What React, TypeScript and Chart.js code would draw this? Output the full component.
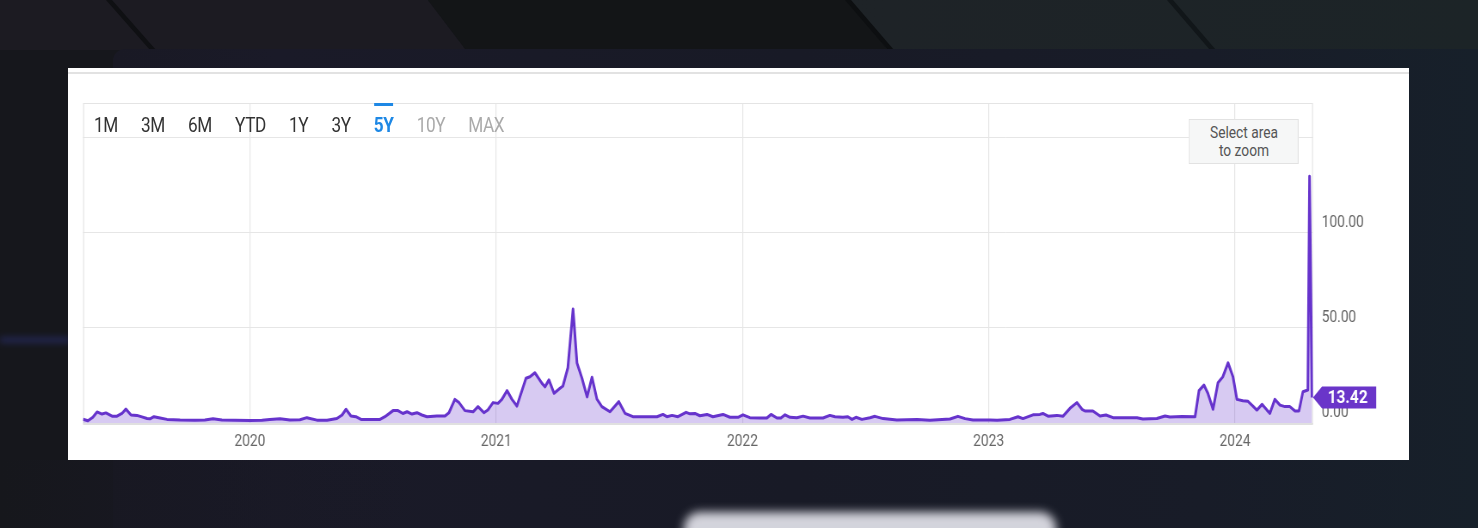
import React, { useEffect, useRef } from 'react';
import { Chart, registerables } from 'chart.js';

Chart.register(...registerables);

// ---- data (x = decimal year, y = price) ----
const xYears = [
  2019.322, 2019.342, 2019.362, 2019.379, 2019.399, 2019.415, 2019.44, 2019.46, 2019.48, 2019.496,
  2019.517, 2019.541, 2019.561, 2019.582, 2019.594, 2019.61, 2019.635, 2019.663, 2019.716, 2019.777,
  2019.817, 2019.85, 2019.886, 2019.939, 2020.0, 2020.049, 2020.081, 2020.122, 2020.162, 2020.203,
  2020.231, 2020.272, 2020.313,
  2020.353, 2020.374, 2020.39, 2020.41, 2020.43, 2020.451, 2020.487, 2020.528, 2020.548, 2020.581,
  2020.601, 2020.621, 2020.638, 2020.658, 2020.678, 2020.698, 2020.719, 2020.759, 2020.792, 2020.808,
  2020.832, 2020.849, 2020.873, 2020.906, 2020.926, 2020.95, 2020.966, 2020.987, 2021.007, 2021.023,
  2021.044, 2021.064, 2021.084, 2021.121, 2021.137, 2021.157, 2021.186, 2021.198, 2021.214, 2021.235,
  2021.259, 2021.271, 2021.291, 2021.312, 2021.328, 2021.348, 2021.369, 2021.389, 2021.409, 2021.429,
  2021.462, 2021.498, 2021.523, 2021.555,
  2021.604, 2021.653, 2021.677, 2021.693, 2021.714, 2021.738, 2021.771, 2021.787, 2021.807, 2021.827,
  2021.856, 2021.88, 2021.921, 2021.949, 2021.982, 2022.002, 2022.03, 2022.071, 2022.099, 2022.116,
  2022.14, 2022.156, 2022.173, 2022.193, 2022.221, 2022.246, 2022.274, 2022.327, 2022.355,
  2022.376, 2022.408, 2022.428, 2022.445, 2022.461, 2022.485, 2022.518, 2022.538, 2022.571, 2022.627,
  2022.709, 2022.761, 2022.843, 2022.875, 2022.904, 2022.936, 2023.005, 2023.034, 2023.086, 2023.119,
  2023.139, 2023.18, 2023.208, 2023.22, 2023.241, 2023.277, 2023.302, 2023.33, 2023.358, 2023.379,
  2023.391, 2023.423, 2023.452, 2023.476, 2023.505, 2023.553, 2023.602, 2023.626, 2023.683, 2023.716,
  2023.736, 2023.785, 2023.838,
  2023.854, 2023.874, 2023.89, 2023.911, 2023.931, 2023.951, 2023.972, 2023.992, 2024.008, 2024.032,
  2024.053, 2024.073, 2024.089, 2024.11, 2024.13, 2024.142, 2024.162, 2024.183, 2024.203, 2024.223,
  2024.244, 2024.26, 2024.276, 2024.296, 2024.303, 2024.313,
];

const prices = [
  2.0, 1.2, 3.0, 5.8, 4.7, 5.3, 3.6, 3.6, 5.0, 7.3,
  4.2, 4.0, 3.2, 2.4, 2.2, 3.3, 2.6, 1.9, 1.6, 1.5,
  1.6, 2.2, 1.6, 1.4, 1.3, 1.4, 1.8, 2.2, 1.6, 1.7,
  2.8, 1.5, 1.5,
  2.4, 4.2, 7.2, 3.7, 3.3, 1.9, 1.8, 1.9, 3.3, 6.5,
  6.5, 5.0, 5.9, 4.7, 5.4, 4.2, 3.3, 3.7, 3.7, 5.4,
  12.4, 10.7, 6.5, 5.9, 8.6, 5.4, 6.8, 10.7, 10.3, 12.4,
  17.0, 12.4, 8.9, 23.5, 24.3, 26.4, 20.8, 19.0, 22.6, 15.6,
  18.2, 19.4, 29.0, 59.8, 31.5, 23.6, 13.7, 24.0, 12.5, 8.6,
  5.9, 11.2, 5.1, 3.3,
  3.3, 3.3, 4.5, 3.3, 4.0, 3.3, 5.6, 4.8, 5.0, 3.8,
  4.5, 3.3, 4.5, 3.0, 3.0, 4.3, 2.8, 2.6, 2.6, 4.5,
  2.6, 2.6, 4.3, 3.0, 2.8, 3.6, 2.6, 2.6, 4.0,
  3.3, 3.0, 3.3, 1.9, 3.0, 1.9, 2.8, 3.5, 2.3, 1.6,
  1.9, 1.4, 2.1, 3.5, 2.3, 1.6, 1.6, 1.4, 1.9, 3.3,
  2.3, 4.3, 4.5, 5.0, 3.6, 4.0, 3.6, 7.7, 10.7, 7.2,
  6.3, 6.3, 3.7, 4.2, 2.8, 2.8, 2.8, 2.1, 2.4, 3.7,
  3.2, 3.4, 3.3,
  17.0, 19.9, 15.6, 7.2, 21.1, 24.3, 31.6, 24.3, 12.4, 11.7,
  11.4, 8.9, 6.8, 9.8, 6.8, 5.1, 12.4, 9.4, 8.6, 8.6,
  6.3, 6.3, 16.4, 17.3, 129.6, 13.42,
];

const yearTicks = [2020, 2021, 2022, 2023, 2024];
const valueTicks = [0, 50, 100, 150];
const rangeButtons = ['1M', '3M', '6M', 'YTD', '1Y', '3Y', '5Y', '10Y', 'MAX'];
const activeRange = '5Y';
const disabledRanges = ['10Y', 'MAX'];

// ---- layout constants ----
const S = 0.86; // horizontal condense of the whole card
const CARD_W = 1341;
const CARD_H = 392;
const LOCAL_W = Math.round(CARD_W / S);
const PLOT_LEFT = (83 - 68) / S;
const PLOT_RIGHT = (1313 - 68) / S;
const Y_AXIS_W = 100;

const LINE = '#6633cc';
const FILL = 'rgba(102, 51, 204, 0.26)';
const LABEL_BG = '#6a35c9';

const framePlugin = {
  id: 'frame',
  beforeDatasetsDraw(chart: any) {
    const { ctx, chartArea: a } = chart;
    ctx.save();
    ctx.strokeStyle = '#e4e4e4';
    ctx.lineWidth = 1.2;
    ctx.beginPath();
    ctx.moveTo(a.left + 0.6, a.bottom);
    ctx.lineTo(a.left + 0.6, a.top + 0.5);
    ctx.lineTo(a.right - 0.6, a.top + 0.5);
    ctx.lineTo(a.right - 0.6, a.bottom);
    ctx.stroke();
    ctx.strokeStyle = '#e0e0e0';
    ctx.lineWidth = 2;
    ctx.beginPath();
    ctx.moveTo(a.left, a.bottom + 1);
    ctx.lineTo(a.right, a.bottom + 1);
    ctx.stroke();
    ctx.restore();
  },
};

const lastLabelPlugin = {
  id: 'lastLabel',
  afterDatasetsDraw(chart: any) {
    const { ctx, chartArea: a } = chart;
    const last = prices[prices.length - 1];
    const y = chart.scales.y.getPixelForValue(last);
    const x0 = a.right;
    const arrow = 10.5;
    const w = 63;
    const h = 22;
    ctx.save();
    ctx.fillStyle = LABEL_BG;
    ctx.beginPath();
    ctx.moveTo(x0, y);
    ctx.lineTo(x0 + arrow, y - h / 2);
    ctx.lineTo(x0 + arrow + w, y - h / 2);
    ctx.lineTo(x0 + arrow + w, y + h / 2);
    ctx.lineTo(x0 + arrow, y + h / 2);
    ctx.closePath();
    ctx.fill();
    ctx.fillStyle = '#ffffff';
    ctx.font = 'bold 18px Roboto';
    ctx.textAlign = 'left';
    ctx.textBaseline = 'middle';
    ctx.fillText(last.toFixed(2), x0 + 17, y + 1);
    ctx.restore();
  },
};

export default function App() {
  const ref = useRef<HTMLCanvasElement>(null);

  useEffect(() => {
    if (!ref.current) return;
    const chart = new Chart(ref.current, {
      type: 'line',
      data: {
        datasets: [
          {
            data: xYears.map((x, i) => ({ x, y: prices[i] })),
            borderColor: LINE,
            backgroundColor: FILL,
            borderWidth: 3,
            pointRadius: 0,
            tension: 0,
            fill: 'origin',
            borderJoinStyle: 'round',
          },
        ],
      },
      options: {
        animation: false,
        responsive: false,
        layout: {
          padding: { left: PLOT_LEFT, right: LOCAL_W - PLOT_RIGHT - Y_AXIS_W, top: 35, bottom: 0 },
        },
        plugins: { legend: { display: false }, tooltip: { enabled: false } },
        scales: {
          x: {
            type: 'linear',
            position: 'bottom',
            min: 2019.322,
            max: 2024.317,
            afterBuildTicks: (s: any) => {
              s.ticks = yearTicks.map((v) => ({ value: v }));
            },
            afterFit: (s: any) => {
              s.height = 37;
            },
            ticks: {
              callback: (v: any) => String(v),
              color: '#666666',
              font: { family: 'Roboto', size: 16 },
              padding: 9,
              autoSkip: false,
              maxRotation: 0,
            },
            grid: { color: '#e6e6e6', drawTicks: false, lineWidth: 1.2 },
            border: { display: false },
          },
          y: {
            type: 'linear',
            position: 'right',
            min: 0,
            max: 168,
            afterBuildTicks: (s: any) => {
              s.ticks = valueTicks.map((v) => ({ value: v }));
            },
            afterFit: (s: any) => {
              s.width = Y_AXIS_W;
            },
            ticks: {
              callback: (v: any) => (v === 150 ? '' : Number(v).toFixed(2)),
              color: '#666666',
              font: { family: 'Roboto', size: 16 },
              padding: 10,
              labelOffset: -10,
            },
            grid: { color: '#e6e6e6', drawTicks: false, lineWidth: 1 },
            border: { display: false },
          },
        },
      } as any,
      plugins: [framePlugin, lastLabelPlugin],
    });
    return () => chart.destroy();
  }, []);

  return (
    <div
      style={{
        position: 'absolute',
        left: 0,
        top: 0,
        width: 1478,
        height: 528,
        overflow: 'hidden',
        background: '#16171c',
        fontFamily: 'Roboto, sans-serif',
      }}
    >
      {/* top decorative band */}
      <div style={{ position: 'absolute', left: 0, top: 0, width: 1478, height: 50, background: '#1c1b22', clipPath: 'polygon(0 0, 428px 0, 466px 50px, 0 50px)' }} />
      <div style={{ position: 'absolute', left: 0, top: 0, width: 1478, height: 50, background: '#131517', clipPath: 'polygon(428px 0, 848px 0, 888px 50px, 466px 50px)' }} />
      <div style={{ position: 'absolute', left: 0, top: 0, width: 1478, height: 50, background: 'linear-gradient(90deg, #1d2125 0%, #1e2327 60%, #1c2427 100%)', clipPath: 'polygon(848px 0, 1478px 0, 1478px 50px, 888px 50px)' }} />
      <div style={{ position: 'absolute', left: 0, top: 0, width: 1478, height: 50, background: '#0f1013', clipPath: 'polygon(106px 0, 112px 0, 156px 50px, 150px 50px)' }} />
      <div style={{ position: 'absolute', left: 0, top: 0, width: 1478, height: 50, background: '#0d0f11', clipPath: 'polygon(845px 0, 851px 0, 894px 50px, 888px 50px)' }} />
      <div style={{ position: 'absolute', left: 0, top: 0, width: 1478, height: 50, background: '#111619', clipPath: 'polygon(1167px 0, 1173px 0, 1216px 50px, 1210px 50px)' }} />

      {/* navy panel behind the card */}
      <div
        style={{
          position: 'absolute',
          left: 113,
          top: 49,
          width: 1478 - 113,
          height: 528 - 49,
          background: 'linear-gradient(90deg, #191924 0%, #1a1a28 12%, #181a26 50%, #181c28 80%, #17202a 100%)',
          borderTopLeftRadius: 12,
        }}
      />
      <div
        style={{
          position: 'absolute',
          left: 0,
          top: 460,
          width: 420,
          height: 68,
          background: 'linear-gradient(90deg, #16171c 0%, rgba(24,24,34,0.7) 30%, rgba(26,26,40,0) 100%)',
        }}
      />
      <div style={{ position: 'absolute', left: 0, top: 337, width: 70, height: 6, background: '#2a3070', opacity: 0.6, filter: 'blur(3px)' }} />
      <div style={{ position: 'absolute', left: 684, top: 512, width: 372, height: 40, background: '#dedee6', opacity: 0.95, borderRadius: 16, filter: 'blur(5px)' }} />

      {/* white card */}
      <div
        style={{
          position: 'absolute',
          left: 68,
          top: 68,
          width: CARD_W,
          height: CARD_H,
          background: '#ffffff',
          overflow: 'hidden',
        }}
      >
        <div style={{ position: 'absolute', left: 0, top: 4, width: CARD_W, height: 2, background: '#e2e2e2' }} />
        <div
          style={{
            position: 'absolute',
            left: 0,
            top: 0,
            width: LOCAL_W,
            height: CARD_H,
            transform: `scaleX(${S})`,
            transformOrigin: '0 0',
          }}
        >
          <canvas ref={ref} width={LOCAL_W} height={CARD_H} style={{ display: 'block' }} />

          {/* range selector */}
          <div
            style={{
              position: 'absolute',
              left: (94 - 68) / S,
              top: 45,
              display: 'flex',
              gap: 27,
              fontSize: 20,
              lineHeight: '24px',
              letterSpacing: -0.5,
              whiteSpace: 'nowrap',
            }}
          >
            {rangeButtons.map((b) => {
              const active = b === activeRange;
              const disabled = disabledRanges.includes(b);
              return (
                <span
                  key={b}
                  style={{
                    position: 'relative',
                    color: active ? '#1e88e5' : disabled ? '#aaaaaa' : '#333333',
                    fontWeight: active ? 700 : 400,
                  }}
                >
                  {b}
                  {active && (
                    <span
                      style={{
                        position: 'absolute',
                        left: 0,
                        right: 0,
                        top: -10,
                        height: 3,
                        background: '#1e88e5',
                      }}
                    />
                  )}
                </span>
              );
            })}
          </div>

          {/* zoom hint */}
          <div
            style={{
              position: 'absolute',
              left: (1189 - 68) / S,
              top: 51,
              width: 110 / S,
              height: 45,
              boxSizing: 'border-box',
              background: '#f6f7f7',
              border: '1px solid #e2e2e2',
              color: '#555555',
              fontSize: 16,
              lineHeight: '18px',
              display: 'flex',
              alignItems: 'center',
              justifyContent: 'center',
              textAlign: 'center',
            }}
          >
            Select area
            <br />
            to zoom
          </div>
        </div>
      </div>
    </div>
  );
}
